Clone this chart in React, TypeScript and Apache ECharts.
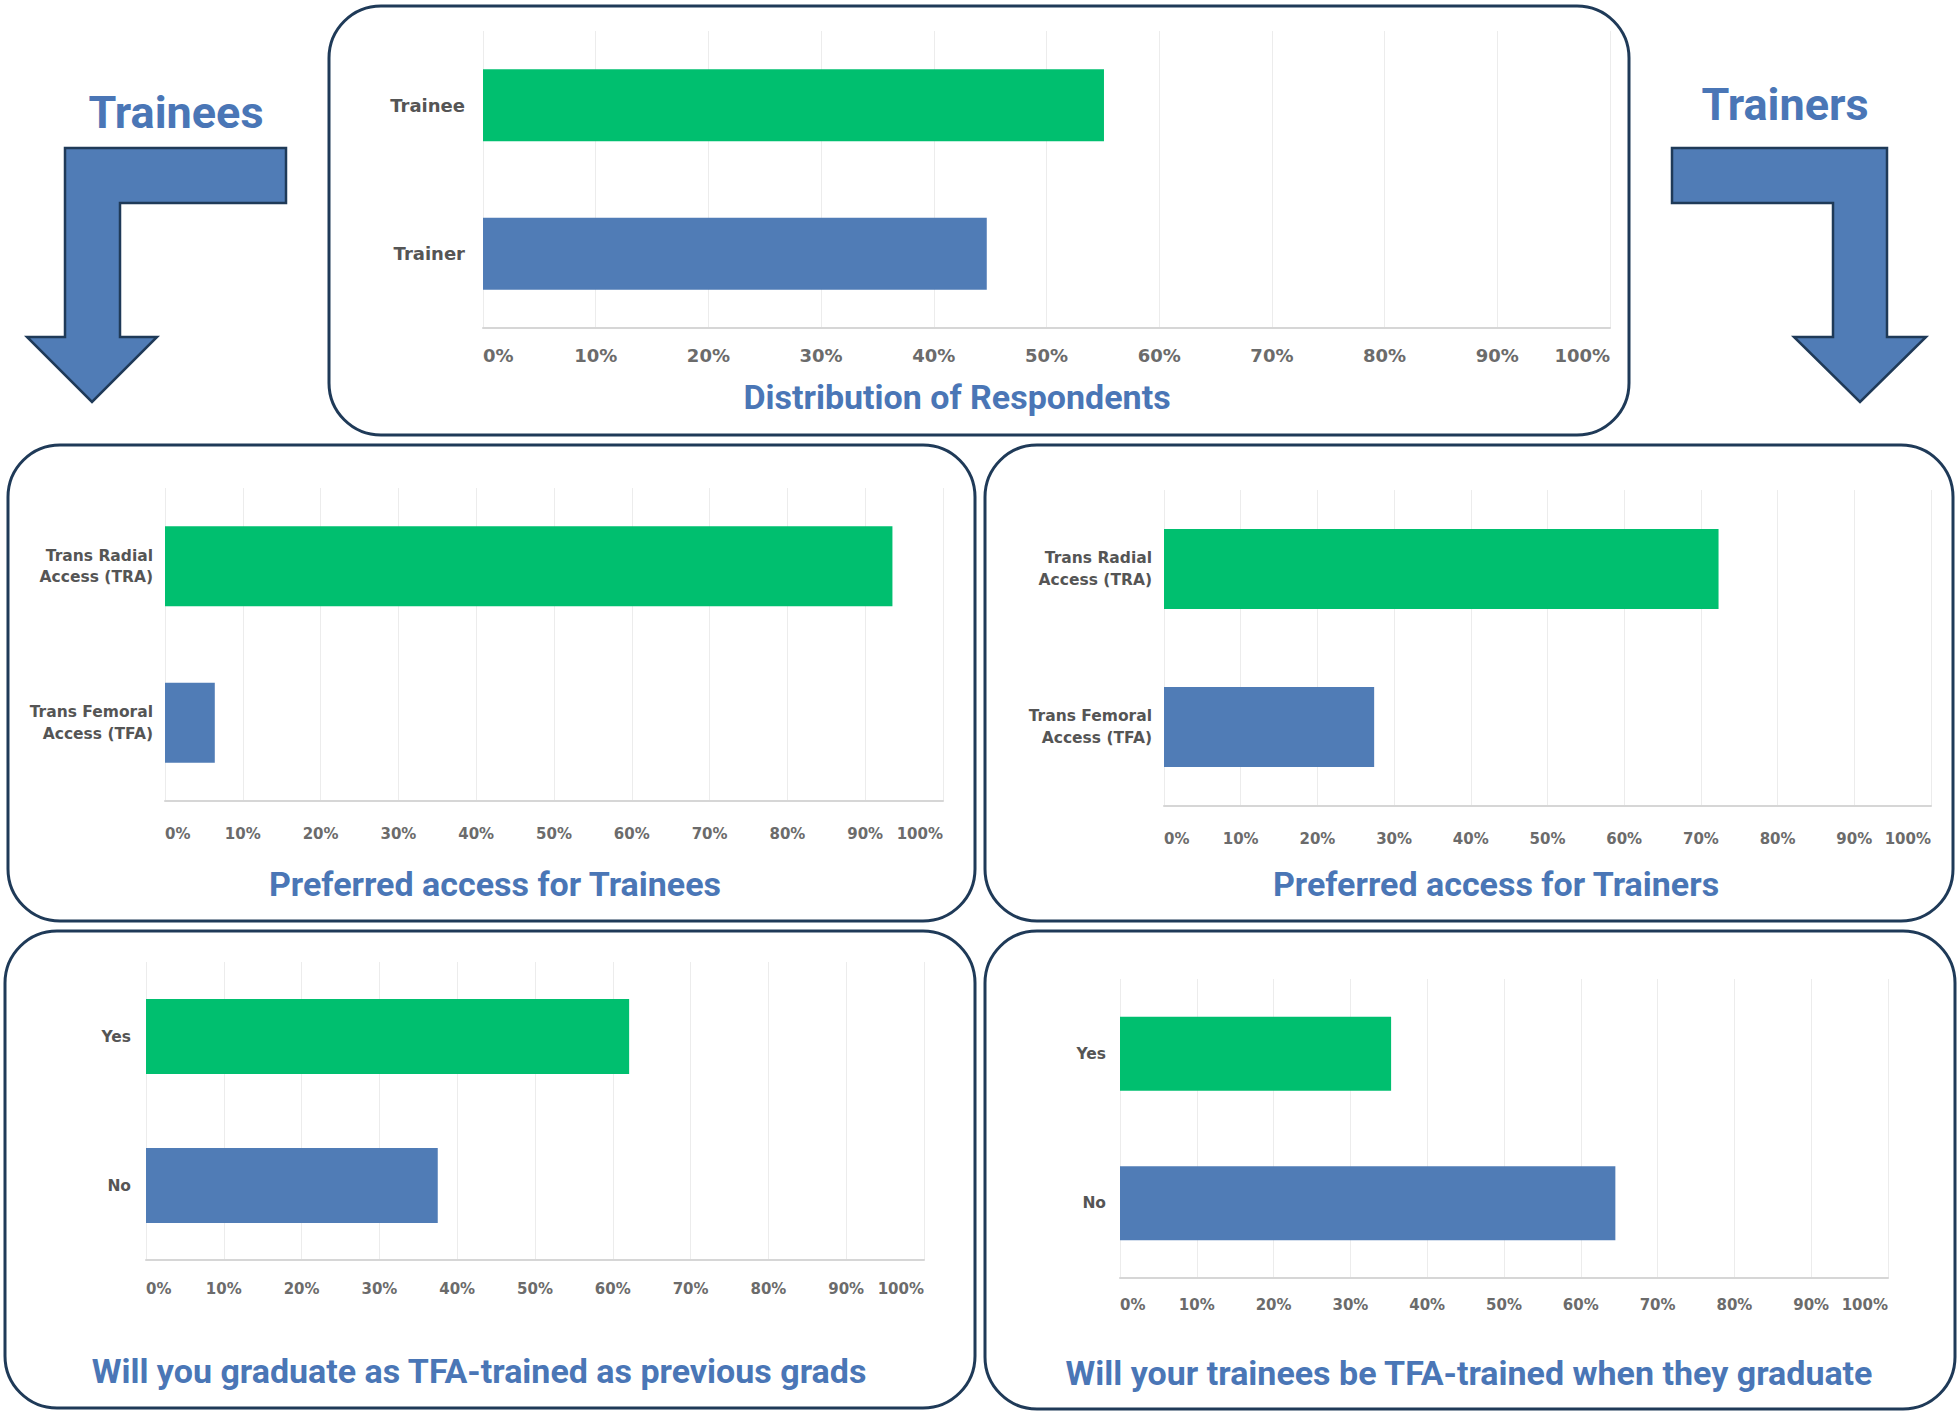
import React, { useEffect, useRef } from "react";
import * as echarts from "echarts";

// ---- data ----
const respondentCats = ["Trainee", "Trainer"];
const respondentVals = [55.1, 44.7];

const accessCats = ["Trans Radial\nAccess (TRA)", "Trans Femoral\nAccess (TFA)"];
const traineeAccessVals = [93.5, 6.4];
const trainerAccessVals = [72.3, 27.4];

const yesNoCats = ["Yes", "No"];
const traineeGradVals = [62.1, 37.5];
const trainerGradVals = [35.3, 64.5];

const panelTitles = [
  "Distribution of Respondents",
  "Preferred access for Trainees",
  "Preferred access for Trainers",
  "Will you graduate as TFA-trained as previous grads",
  "Will your trainees be TFA-trained when they graduate",
];
const groupLabels = ["Trainees", "Trainers"];

const GREEN = "#00bf6f";
const BLUE = "#507cb6";
const TITLE_BLUE = "#4a76b6";
const BORDER = "#1f3a58";

export default function App() {
  const ref = useRef<HTMLDivElement>(null);

  useEffect(() => {
    if (!ref.current) return;
    const chart = echarts.init(ref.current, null, { renderer: "svg" });

    const panels = [
      { cats: respondentCats, vals: respondentVals, grid: { left: 483, top: 31, width: 1127, height: 297 }, bar: 72, xFont: 18, xMargin: 18, yFont: 18, yMargin: 18 },
      { cats: accessCats, vals: traineeAccessVals, grid: { left: 165, top: 488, width: 778, height: 313 }, bar: 80, xFont: 15, xMargin: 25, yFont: 15.5, yMargin: 12 },
      { cats: accessCats, vals: trainerAccessVals, grid: { left: 1164, top: 490, width: 767, height: 316 }, bar: 80, xFont: 15, xMargin: 25, yFont: 15.5, yMargin: 12 },
      { cats: yesNoCats, vals: traineeGradVals, grid: { left: 146, top: 962, width: 778, height: 298 }, bar: 75, xFont: 15, xMargin: 21, yFont: 15.5, yMargin: 15 },
      { cats: yesNoCats, vals: trainerGradVals, grid: { left: 1120, top: 979, width: 768, height: 299 }, bar: 74, xFont: 15, xMargin: 19, yFont: 15.5, yMargin: 14 },
    ];

    const grids = panels.map((p) => ({ ...p.grid, containLabel: false }));
    const xAxes = panels.map((p, i) => ({
      type: "value",
      gridIndex: i,
      min: 0,
      max: 100,
      interval: 10,
      axisLine: { show: true, lineStyle: { color: "#d6d6d6", width: 2 } },
      axisTick: { show: false },
      splitLine: { show: true, lineStyle: { color: "#ececec", width: 1 } },
      axisLabel: {
        formatter: (v: number) => `${v}%`,
        fontFamily: "DejaVu Sans",
        fontWeight: "bold",
        fontSize: p.xFont,
        color: "#6b6b6b",
        margin: p.xMargin,
        alignMinLabel: "left",
        alignMaxLabel: "right",
      },
    }));
    const yAxes = panels.map((p, i) => ({
      type: "category",
      gridIndex: i,
      inverse: true,
      data: p.cats,
      axisLine: { show: false },
      axisTick: { show: false },
      axisLabel: {
        fontFamily: "DejaVu Sans",
        fontWeight: "bold",
        fontSize: p.yFont,
        lineHeight: p.yFont + 6,
        color: "#555555",
        margin: p.yMargin,
        align: "right",
      },
    }));
    const series = panels.map((p, i) => ({
      type: "bar",
      xAxisIndex: i,
      yAxisIndex: i,
      barWidth: p.bar,
      data: p.vals.map((v, j) => ({ value: v, itemStyle: { color: j === 0 ? GREEN : BLUE } })),
    }));

    const boxes = [
      [329, 6, 1300, 429],
      [8, 445, 967, 476],
      [985, 445, 968, 476],
      [5, 931, 970, 477],
      [985, 931, 970, 478],
    ].map(([x, y, w, h]) => ({
      type: "rect",
      z: 0,
      shape: { x, y, width: w, height: h, r: 52 },
      style: { fill: "transparent", stroke: BORDER, lineWidth: 3 },
    }));

    const titlePos = [
      [957, 397],
      [495, 884],
      [1496, 884],
      [479, 1371],
      [1469, 1373],
    ];
    const titles = panelTitles.map((t, i) => ({
      type: "text",
      x: titlePos[i][0],
      y: titlePos[i][1],
      style: {
        text: t,
        fill: TITLE_BLUE,
        font: "bold 34px Roboto",
        textAlign: "center",
        textVerticalAlign: "middle",
      },
    }));

    const arrowStyle = { fill: BLUE, stroke: BORDER, lineWidth: 2.5 };
    const arrows = [
      {
        type: "polygon",
        shape: {
          points: [
            [65, 148], [286, 148], [286, 203], [120, 203], [120, 337],
            [157, 337], [92, 402], [27, 337], [65, 337],
          ],
        },
        style: arrowStyle,
      },
      {
        type: "polygon",
        shape: {
          points: [
            [1672, 148], [1887, 148], [1887, 337], [1926, 337], [1860, 402],
            [1794, 337], [1833, 337], [1833, 203], [1672, 203],
          ],
        },
        style: arrowStyle,
      },
      {
        type: "text",
        x: 176,
        y: 135,
        style: { text: groupLabels[0], fill: TITLE_BLUE, font: "bold 45px Roboto", textAlign: "center", textVerticalAlign: "bottom" },
      },
      {
        type: "text",
        x: 1785,
        y: 127,
        style: { text: groupLabels[1], fill: TITLE_BLUE, font: "bold 45px Roboto", textAlign: "center", textVerticalAlign: "bottom" },
      },
    ];

    chart.setOption({
      animation: false,
      backgroundColor: "#ffffff",
      grid: grids,
      xAxis: xAxes,
      yAxis: yAxes,
      series,
      graphic: [...boxes, ...titles, ...arrows],
    });

    return () => chart.dispose();
  }, []);

  return (
    <div
      ref={ref}
      style={{ position: "fixed", left: 0, top: 0, width: 1960, height: 1412, background: "#fff" }}
    />
  );
}
